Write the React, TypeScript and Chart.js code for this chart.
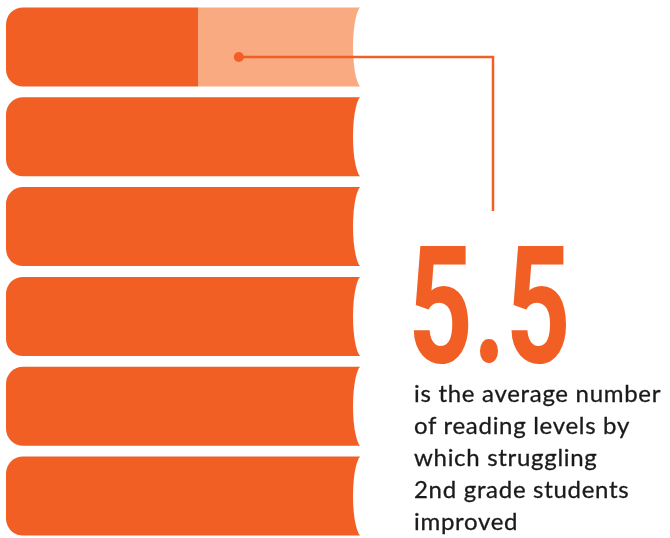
import React, { useEffect, useRef } from "react";
import { Chart, registerables } from "chart.js";

Chart.register(...registerables);

// Data: six "books" (reading levels); the top one is partly filled
const books = ["Level 6", "Level 5", "Level 4", "Level 3", "Level 2", "Level 1"];
const filledValues = [0.54, 1, 1, 1, 1, 1];
const remainingValues = [0.46, 0, 0, 0, 0, 0];
const headline = "5.5";
const captionLines = [
  "is the average number",
  "of reading levels by",
  "which struggling",
  "2nd grade students",
  "improved",
];

const DARK = "#F25F24";
const LIGHT = "#F9AA80";

const notchPlugin = {
  id: "bookNotch",
  afterDatasetsDraw(chart: any) {
    const ctx = chart.ctx;
    const meta = chart.getDatasetMeta(0);
    const xs = chart.scales.x;
    ctx.save();
    ctx.globalCompositeOperation = "destination-out";
    meta.data.forEach((el: any, i: number) => {
      const { y, height } = el.getProps(["y", "height"], true);
      const xEnd = xs.getPixelForValue(filledValues[i] + remainingValues[i]);
      ctx.beginPath();
      ctx.ellipse(xEnd + 0.5, y, 9.5, height / 2 + 1.5, 0, 0, Math.PI * 2);
      ctx.fillStyle = "#000";
      ctx.fill();
    });
    ctx.restore();
  },
  afterDraw(chart: any) {
    const ctx = chart.ctx;
    const xs = chart.scales.x;
    const el = chart.getDatasetMeta(1).data[0];
    const { y } = el.getProps(["y"], true);
    const dotX = xs.getPixelForValue(0.654);
    const dotY = y + 10;
    ctx.save();
    ctx.strokeStyle = DARK;
    ctx.lineWidth = 2.5;
    ctx.beginPath();
    ctx.moveTo(dotX, dotY);
    ctx.lineTo(493, dotY);
    ctx.lineTo(493, 211);
    ctx.stroke();
    ctx.fillStyle = DARK;
    ctx.beginPath();
    ctx.arc(dotX, dotY, 5, 0, Math.PI * 2);
    ctx.fill();
    ctx.restore();
  },
};

export default function App() {
  const ref = useRef<HTMLCanvasElement | null>(null);

  useEffect(() => {
    if (!ref.current) return;
    const chart = new Chart(ref.current, {
      type: "bar",
      data: {
        labels: books,
        datasets: [
          {
            label: "Filled",
            data: filledValues.map((v) => [0, v]) as any,
            backgroundColor: DARK,
            borderWidth: 0,
            borderSkipped: false,
            borderRadius: { topLeft: 17, bottomLeft: 17, topRight: 0, bottomRight: 0 },
            grouped: false,
          },
          {
            label: "Remaining",
            data: remainingValues.map((v, i) => [filledValues[i], filledValues[i] + v]) as any,
            backgroundColor: LIGHT,
            borderWidth: 0,
            borderSkipped: false,
            borderRadius: 0,
            grouped: false,
          },
        ],
      },
      options: {
        indexAxis: "y",
        animation: false,
        responsive: true,
        maintainAspectRatio: false,
        layout: { padding: { left: 6, right: 308, top: 2, bottom: 0 } },
        datasets: { bar: { categoryPercentage: 1, barPercentage: 0.88 } },
        scales: {
          x: { display: false, min: 0, max: 1 },
          y: { display: false },
        },
        plugins: { legend: { display: false }, tooltip: { enabled: false } },
      },
      plugins: [notchPlugin],
    });
    return () => chart.destroy();
  }, []);

  return (
    <div
      style={{
        position: "fixed",
        left: 0,
        top: 0,
        width: 670,
        height: 538,
        overflow: "hidden",
        background: "#fff",
      }}
    >
      <div style={{ position: "absolute", left: 0, top: 0, width: 670, height: 541 }}>
        <canvas ref={ref} />
      </div>
      <div
        style={{
          position: "absolute",
          left: 408,
          top: 224,
          font: "700 164px Roboto",
          lineHeight: 1,
          color: DARK,
          transform: "scaleX(0.69)",
          transformOrigin: "left top",
          whiteSpace: "nowrap",
        }}
      >
        {headline}
      </div>
      <div
        style={{
          position: "absolute",
          left: 414,
          top: 377,
          font: "400 24px Lato",
          lineHeight: "32px",
          letterSpacing: "0.7px",
          color: "#1a1a1a",
          WebkitTextStroke: "0.3px #1a1a1a",
          whiteSpace: "nowrap",
        }}
      >
        {captionLines.map((l, i) => (
          <div key={i}>{l}</div>
        ))}
      </div>
    </div>
  );
}
